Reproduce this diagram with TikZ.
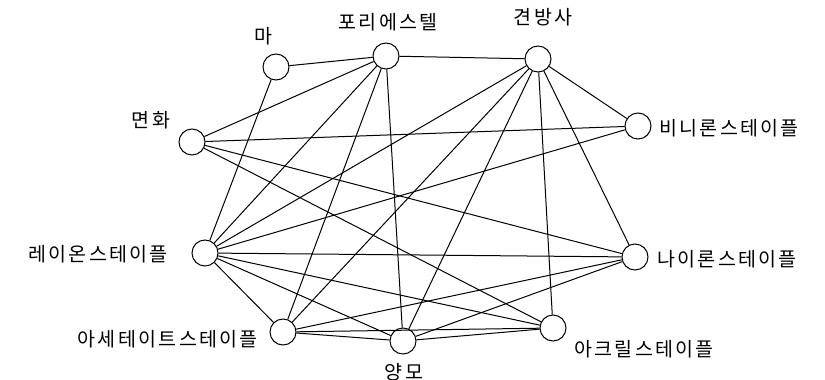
\documentclass[tikz,border=0pt]{standalone}
\usepackage{fontspec}
\newfontfamily\kr[LetterSpace=12]{Noto Sans CJK KR}
\begin{document}
\begin{tikzpicture}[x=1pt,y=-1pt,
  fibre/.style={circle,draw=black,line width=1pt,minimum size=26pt,inner sep=0pt,fill=white},
  lbl/.style={inner sep=0pt,font=\kr\fontsize{19.5}{19.5}\selectfont},
  link/.style={draw=black,line width=1pt}]
\fill[white] (0,0) rectangle (825,380);
\useasboundingbox (0,0) rectangle (825,380);
% nodes
\node[fibre] (ma)    at (276,67)  {};
\node[fibre] (po)    at (386,56)  {};
\node[fibre] (gyeon) at (538,59)  {};
\node[fibre] (myeon) at (192,142) {};
\node[fibre] (vin)   at (638,126) {};
\node[fibre] (ray)   at (205,253) {};
\node[fibre] (nyl)   at (635,257) {};
\node[fibre] (ace)   at (283,332) {};
\node[fibre] (yang)  at (403,341) {};
\node[fibre] (acr)   at (553,328) {};
% labels
\node[lbl] (lma)    at (263,36)  {마};
\node[lbl] (lpo)    at (388,22)  {포리에스텔};
\node[lbl] (lgyeon) at (543,17)  {견방사};
\node[lbl] (lmyeon) at (151,120) {면화};
\node[lbl,anchor=west] (lvin) at (659,128) {비니론스테이플};
\node[lbl,anchor=west] (lnyl) at (657,259) {나이론스테이플};
\node[lbl,anchor=east] (lray) at (168,254) {레이온스테이플};
\node[lbl,anchor=east] (lace) at (258,339) {아세테이트스테이플};
\node[lbl,anchor=west] (lacr) at (574,349) {아크릴스테이플};
\node[lbl] (lyang)  at (404,372) {양모};
% connectors
\foreach \a/\b in {ma/po, ma/ray,
  po/gyeon, po/myeon, po/ray, po/ace, po/yang,
  gyeon/vin, gyeon/ray, gyeon/ace, gyeon/yang, gyeon/acr, gyeon/nyl,
  myeon/vin, myeon/nyl, myeon/acr,
  ray/vin, ray/nyl, ray/acr, ray/yang, ray/ace,
  ace/nyl, ace/acr, ace/yang,
  yang/nyl, yang/acr}
  \draw[link] (\a) -- (\b);
\end{tikzpicture}
\end{document}
